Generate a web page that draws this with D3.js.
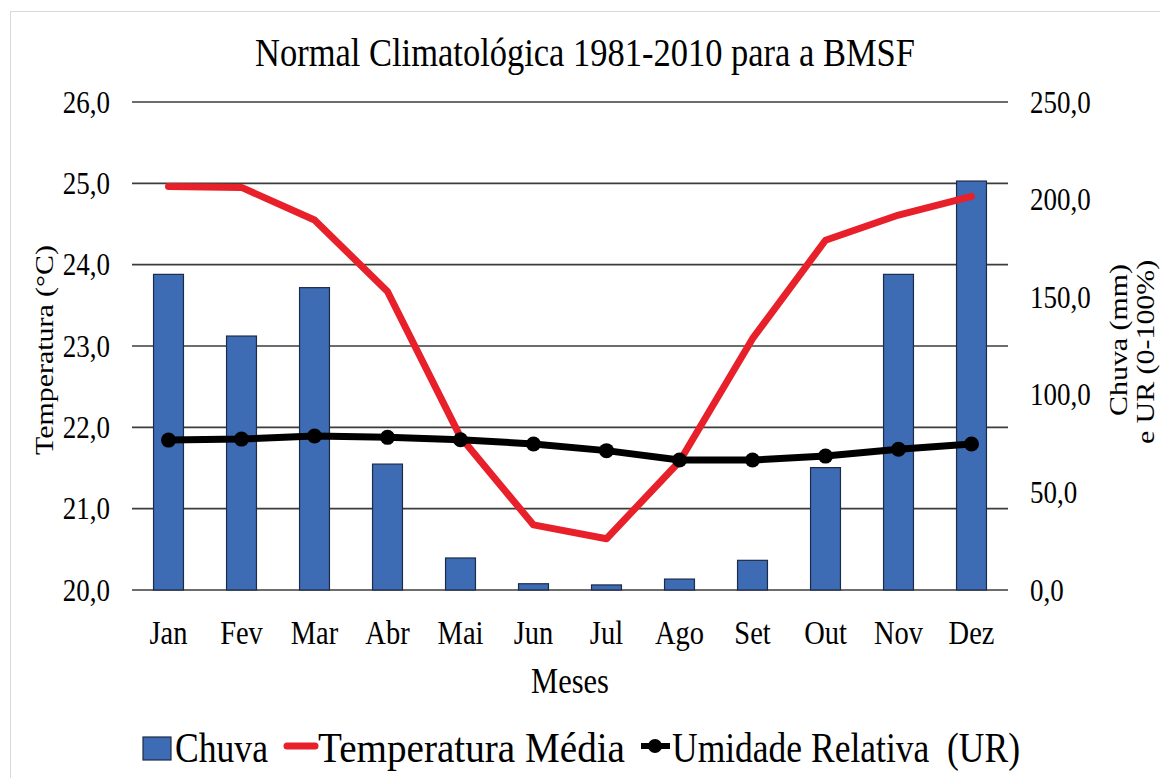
<!DOCTYPE html>
<html>
<head>
<meta charset="utf-8">
<script src="https://cdn.jsdelivr.net/npm/d3@7"></script>
<style>
  html, body { margin: 0; padding: 0; background: #fff; }
  svg { display: block; }
  text { font-family: "Liberation Serif", "Times New Roman", serif; fill: #000; white-space: pre; }
</style>
</head>
<body>
<svg id="chart" width="1160" height="778"></svg>
<script>
// ---- data ----
const months = ["Jan","Fev","Mar","Abr","Mai","Jun","Jul","Ago","Set","Out","Nov","Dez"];
const chuva = [161.7, 130.1, 154.9, 64.5, 16.4, 3.2, 2.6, 5.6, 15.2, 62.7, 161.7, 209.5];
const temperatura = [24.96, 24.95, 24.55, 23.67, 21.88, 20.80, 20.63, 21.58, 23.09, 24.30, 24.61, 24.84];
const umidade = [76.8, 77.3, 78.9, 78.2, 77.0, 74.8, 71.4, 66.6, 66.6, 68.6, 72.1, 74.8];
const leftTicks = [20, 21, 22, 23, 24, 25, 26];
const rightTicks = [0, 50, 100, 150, 200, 250];
const title = "Normal Climatológica 1981-2010 para a BMSF";
const leftTitle = "Temperatura (°C)";
const rightTitle = ["Chuva (mm)", "e UR (0-100%)"];
const xTitle = "Meses";
const legendLabels = ["Chuva", "Temperatura Média", "Umidade Relativa  (UR)"];

// ---- layout ----
const svg = d3.select("#chart");
const X0 = 132, X1 = 1008, Y0 = 590, Y1 = 102;
const SY = 1.15; // vertical stretch of the original picture's text

const x = d3.scaleBand().domain(months).range([X0, X1]).paddingInner(0.59).paddingOuter(0.295);
const yL = d3.scaleLinear().domain([20, 26]).range([Y0, Y1]);
const yR = d3.scaleLinear().domain([0, 250]).range([Y0, Y1]);
const fmt = v => d3.format(".1f")(v).replace(".", ",");

// frame
svg.append("rect").attr("x", 10.5).attr("y", 11.5).attr("width", 1160).attr("height", 800)
  .attr("fill", "#fff").attr("stroke", "#d9d9d9").attr("stroke-width", 1);

function txt(g, s, px, py, size, anchor, rot, len) {
  const t = g.append("text")
    .attr("transform", rot ? `translate(${px},${py}) rotate(-90) scale(${SY},1)` : `translate(${px},${py}) scale(1,${SY})`)
    .attr("text-anchor", anchor || "middle")
    .attr("dominant-baseline", "central")
    .style("font-size", size + "px")
    .text(s);
  if (len) t.attr("textLength", len).attr("lengthAdjust", "spacingAndGlyphs");
  return t;
}

// gridlines (left axis ticks)
const grid = svg.append("g");
grid.selectAll("line").data(leftTicks).join("line")
  .attr("x1", X0).attr("x2", X1)
  .attr("y1", d => yL(d)).attr("y2", d => yL(d))
  .attr("stroke", "#3c3c3c").attr("stroke-width", 1.6);

// left axis labels
const gl = svg.append("g");
leftTicks.forEach(d => txt(gl, fmt(d), 110, yL(d), 27, "end"));
// right axis labels
const gr = svg.append("g");
rightTicks.forEach(d => txt(gr, fmt(d), 1030, yR(d), 27, "start"));

// bars
svg.append("g").selectAll("rect").data(months).join("rect")
  .attr("x", d => x(d)).attr("width", x.bandwidth())
  .attr("y", (d, i) => yR(chuva[i])).attr("height", (d, i) => Y0 - yR(chuva[i]))
  .attr("fill", "#3d6cb5").attr("stroke", "#1d2b47").attr("stroke-width", 1.2);

// temperature line
const cx = d => x(d) + x.bandwidth() / 2;
svg.append("path").datum(months)
  .attr("d", d3.line().x(d => cx(d)).y((d, i) => yL(temperatura[i])))
  .attr("fill", "none").attr("stroke", "#e8202a").attr("stroke-width", 7)
  .attr("stroke-linejoin", "round").attr("stroke-linecap", "round");

// humidity line
svg.append("path").datum(months)
  .attr("d", d3.line().x(d => cx(d)).y((d, i) => yR(umidade[i])))
  .attr("fill", "none").attr("stroke", "#000").attr("stroke-width", 7)
  .attr("stroke-linejoin", "round");
svg.append("g").selectAll("circle").data(months).join("circle")
  .attr("cx", d => cx(d)).attr("cy", (d, i) => yR(umidade[i])).attr("r", 7.5)
  .attr("fill", "#000");

// x labels
const gx = svg.append("g");
months.forEach(m => txt(gx, m, cx(m), 633, 28.5, "middle"));
txt(svg, xTitle, 570, 681, 30.5, "middle");

// title
txt(svg, title, 585, 53, 34.5, "middle");

// axis titles
txt(svg, leftTitle, 44, 350, 26, "middle", true);
txt(svg, rightTitle[0], 1118, 340, 26, "middle", true);
txt(svg, rightTitle[1], 1145, 352, 26, "middle", true);

// legend
const lg = svg.append("g");
lg.append("rect").attr("x", 143).attr("y", 737).attr("width", 28).attr("height", 23)
  .attr("fill", "#3d6cb5").attr("stroke", "#1d2b47").attr("stroke-width", 1.2);
txt(lg, legendLabels[0], 175, 748, 36, "start", false, 93);
lg.append("line").attr("x1", 287).attr("x2", 315).attr("y1", 746).attr("y2", 746)
  .attr("stroke", "#e8202a").attr("stroke-width", 7).attr("stroke-linecap", "round");
txt(lg, legendLabels[1], 318, 748, 36, "start", false, 307);
lg.append("line").attr("x1", 641).attr("x2", 670).attr("y1", 746).attr("y2", 746)
  .attr("stroke", "#000").attr("stroke-width", 6);
lg.append("circle").attr("cx", 655).attr("cy", 746).attr("r", 7).attr("fill", "#000");
txt(lg, legendLabels[2], 672, 748, 36, "start", false, 348);
</script>
</body>
</html>
